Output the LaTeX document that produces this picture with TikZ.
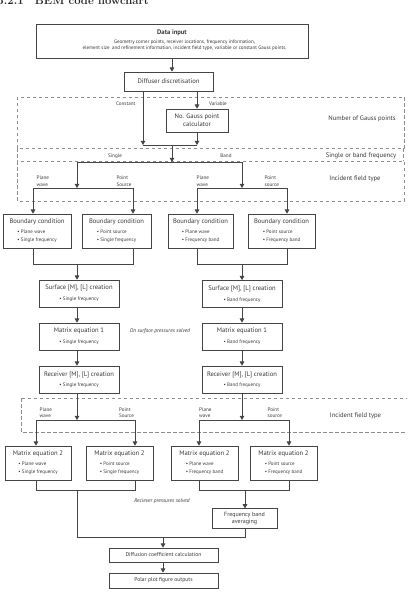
\documentclass[tikz,border=0pt]{standalone}
\usepackage{fontspec}
\newfontfamily\dsans{PT Sans}
\usetikzlibrary{arrows.meta}
\definecolor{ln}{HTML}{454545}
\definecolor{tx}{HTML}{383838}
\definecolor{dsh}{HTML}{8E8E8E}
\newcommand{\fmain}{\fontsize{6.6}{7.8}\selectfont}
\newcommand{\fsm}{\fontsize{5}{7.8}\selectfont}
\newcommand{\flab}{\fontsize{5.1}{6.5}\selectfont}
\newcommand{\fnote}{\fontsize{5.4}{6.5}\selectfont}
\newcommand{\fdat}{\fontsize{5}{6.5}\selectfont}
\newcommand{\btwo}[2]{{\fsm\begin{tabular}[t]{@{}l@{}}\textbullet\ #1\\\textbullet\ #2\end{tabular}}}
\newcommand{\bone}[1]{{\fsm\textbullet\ #1}}
\tikzset{
  box/.style={draw=ln, line width=0.7pt, inner sep=0pt, align=center, text=tx, font=\dsans\fmain},
  conn/.style={draw=ln, line width=0.8pt},
  arr/.style={conn, -{Triangle[width=4.6pt,length=4.2pt]}},
  lbl/.style={text=tx, font=\dsans\flab, inner sep=0pt, align=left},
  region/.style={text=tx, font=\dsans\fmain, inner sep=0pt},
  dashbox/.style={draw=dsh, line width=0.6pt, dash pattern=on 3.5pt off 2.5pt},
  note/.style={text=tx, font=\dsans\itshape\fnote, inner sep=0pt}
}
\begin{document}
\begin{tikzpicture}[x=1pt,y=-1pt]
\useasboundingbox (0,0) rectangle (407,593);
\fill[white] (0,0) rectangle (407,593);
\clip (0,0) rectangle (407,593);

\node[anchor=base west, inner sep=0pt, font=\fontsize{11.3}{13}\selectfont\bfseries, text=black!85] (heading) at (-2.7,4.3) {5.2.1\quad BEM code flowchart};

% dashed regions
\draw[dashbox] (17,97) rectangle (404,148.5);
\draw[dashbox] (17,161.5) rectangle (404,201);
\draw[dashbox] (17,148.5) -- (17,161.5) (403,148.5) -- (403,161.5);
\draw[dashbox] (21,398) rectangle (412,432);

\node[region] (rg1) at (362,119) {Number of Gauss points};
\node[region] (rg2) at (361,156) {Single or band frequency};
\node[region] (rg3) at (355,179) {Incident field type};
\node[region] (rg4) at (355.5,416) {Incident field type};

% data input
\node[box, minimum width=272, minimum height=34] (data) at (172,41) {};
\node[font=\dsans\bfseries\fmain, text=tx, inner sep=0pt] (datat) at (172,33) {Data input};
\node[font=\dsans\fdat, text=tx, inner sep=0pt, align=center] (datad) at (184.5,45) {Geometry corner points, receiver locations, frequency information,\\element size\ \ and refinement information, incident field type, variable or constant Gauss points.};

\node[box, minimum width=89, minimum height=19] (diff) at (168.5,81.5) {Diffuser discretisation};
\node[box, minimum width=62, minimum height=23] (gauss) at (197,120.5) {No. Gauss point\\calculator};

% boundary condition boxes
\node[box, minimum width=68, minimum height=34] (bcA) at (37,231) {Boundary condition\\[2.5pt]\btwo{Plane wave}{Single frequency}};
\node[box, minimum width=69, minimum height=34] (bcB) at (116.5,231) {Boundary condition\\[2.5pt]\btwo{Point source}{Single frequency}};
\node[box, minimum width=65, minimum height=34] (bcC) at (200.5,231) {Boundary condition\\[2.5pt]\btwo{Plane wave}{Frequency band}};
\node[box, minimum width=67, minimum height=34] (bcD) at (281.5,231) {Boundary condition\\[2.5pt]\btwo{Point source}{Frequency band}};

% single-frequency / band columns
\node[box, minimum width=80, minimum height=27] (surfL) at (79,293.5) {Surface [M], [L] creation\\[3pt]\bone{Single frequency}};
\node[box, minimum width=80, minimum height=27] (surfR) at (242,294) {Surface [M], [L] creation\\[3pt]\bone{Band frequency}};
\node[box, minimum width=80, minimum height=27] (mat1L) at (79,336.5) {Matrix equation 1\\[3pt]\bone{Single frequency}};
\node[box, minimum width=80, minimum height=27] (mat1R) at (242,336.5) {Matrix equation 1\\[3pt]\bone{Band frequency}};
\node[box, minimum width=80, minimum height=27] (recL) at (79,379.5) {Receiver [M], [L] creation\\[2.5pt]\bone{Single frequency}};
\node[box, minimum width=80, minimum height=27] (recR) at (242,379.5) {Receiver [M], [L] creation\\[2.5pt]\bone{Band frequency}};

% matrix equation 2 boxes
\node[box, minimum width=66, minimum height=34] (m2E) at (38,463) {Matrix equation 2\\[2.5pt]\btwo{Plane wave}{Single frequency}};
\node[box, minimum width=67, minimum height=34] (m2F) at (119.5,463) {Matrix equation 2\\[2.5pt]\btwo{Point source}{Single frequency}};
\node[box, minimum width=67, minimum height=34] (m2G) at (204.5,463) {Matrix equation 2\\[2.5pt]\btwo{Plane wave}{Frequency band}};
\node[box, minimum width=67, minimum height=34] (m2H) at (283.5,463) {Matrix equation 2\\[2.5pt]\btwo{Point source}{Frequency band}};

\node[box, minimum width=65, minimum height=19.5, font=\dsans\fontsize{6}{7.6}\selectfont] (freq) at (244.5,518.5) {Frequency band\\averaging};
\node[box, minimum width=109, minimum height=14, font=\dsans\fontsize{5.6}{7}\selectfont] (diffc) at (163.5,555) {Diffusion coefficient calculation};
\node[box, minimum width=109, minimum height=15, font=\dsans\fontsize{5.6}{7}\selectfont] (polar) at (163.5,580.5) {Polar plot figure outputs};

% labels
\node[lbl, anchor=east] (lcon) at (135.5,104) {Constant};
\node[lbl] (lvar) at (218,104) {Variable};
\node[lbl] (lsin) at (115,156) {Single};
\node[lbl] (lban) at (226,156) {Band};
\node[lbl, anchor=west] (lpw1) at (36.5,181) {Plane\\wave};
\node[lbl, anchor=west] (lps1) at (116.5,181) {Point\\Source};
\node[lbl, anchor=west] (lpw2) at (196.5,181) {Plane\\wave};
\node[lbl, anchor=west] (lps2) at (264.5,181) {Point\\source};
\node[lbl, anchor=west] (lpw3) at (39.5,412.5) {Plane\\wave};
\node[lbl, anchor=west] (lps3) at (119,412.5) {Point\\Source};
\node[lbl, anchor=west] (lpw4) at (199,412.5) {Plane\\wave};
\node[lbl, anchor=west] (lps4) at (267.5,412.5) {Point\\source};
\node[note] (n1) at (160,331) {On surface pressures solved};
\node[note] (n2) at (162,501) {Reciever pressures solved};

% connectors: top
\draw[arr] (data.south -| datat) -- (datat |- diff.north);
\coordinate (jcon) at (143,145);
\coordinate (jvar) at (197,145);
\coordinate (jmid) at (172,145);
\draw[arr] (diff.south -| jcon) -- (jcon);
\draw[arr] (diff.south -| jvar) -- (gauss.north);
\draw[arr] (gauss.south) -- (jvar);
\draw[conn] (jcon) -- (jvar);
\coordinate (jfreq) at (172,162);
\draw[arr] (jmid) -- (jfreq);
\coordinate (jsing) at (77,162);
\coordinate (jband) at (242,162);
\draw[conn] (jsing) -- (jband);
\coordinate (jsL) at (77,188);
\coordinate (jbL) at (242,188);
\draw[arr] (jsing) -- (jsL);
\draw[arr] (jband) -- (jbL);
\coordinate (pA) at (33,188);
\coordinate (pB) at (133,188);
\coordinate (pC) at (197,188);
\coordinate (pD) at (287,188);
\draw[conn] (pA) -- (pB);
\draw[conn] (pC) -- (pD);
\draw[arr] (pA) -- (pA |- bcA.north);
\draw[arr] (pB) -- (pB |- bcB.north);
\draw[arr] (pC) -- (pC |- bcC.north);
\draw[arr] (pD) -- (pD |- bcD.north);

% boundary -> surface
\coordinate (qA) at (33,264);
\coordinate (qB) at (133,264);
\coordinate (qC) at (197,264);
\coordinate (qD) at (287,264);
\coordinate (sL) at (77,264);
\coordinate (sR) at (242,264);
\draw[conn] (bcA.south -| qA) -- (qA) -- (qB) -- (bcB.south -| qB);
\draw[conn] (bcC.south -| qC) -- (qC) -- (qD) -- (bcD.south -| qD);
\draw[arr] (sL) -- (sL |- surfL.north);
\draw[arr] (sR) -- (sR |- surfR.north);
\draw[arr] (surfL.south -| sL) -- (sL |- mat1L.north);
\draw[arr] (surfR.south -| sR) -- (sR |- mat1R.north);
\draw[arr] (mat1L.south -| sL) -- (sL |- recL.north);
\draw[arr] (mat1R.south -| sR) -- (sR |- recR.north);

% receiver -> matrix eq 2
\coordinate (tL) at (77,420);
\coordinate (tR) at (242,420);
\coordinate (tE) at (36,420);
\coordinate (tF) at (135,420);
\coordinate (tG) at (199,420);
\coordinate (tH) at (289,420);
\draw[arr] (recL.south -| tL) -- (tL);
\draw[arr] (recR.south -| tR) -- (tR);
\draw[conn] (tE) -- (tF);
\draw[conn] (tG) -- (tH);
\draw[arr] (tE) -- (tE |- m2E.north);
\draw[arr] (tF) -- (tF |- m2F.north);
\draw[arr] (tG) -- (tG |- m2G.north);
\draw[arr] (tH) -- (tH |- m2H.north);

% matrix eq 2 -> outputs
\coordinate (uE) at (36,490);
\coordinate (uF) at (135,490);
\coordinate (uG) at (199,490);
\coordinate (uH) at (289,490);
\coordinate (uL) at (77,490);
\coordinate (uR) at (245,490);
\coordinate (vL) at (77,537);
\coordinate (vR) at (245,537);
\coordinate (vM) at (163,537);
\draw[conn] (m2E.south -| uE) -- (uE) -- (uF) -- (m2F.south -| uF);
\draw[conn] (m2G.south -| uG) -- (uG) -- (uH) -- (m2H.south -| uH);
\draw[arr] (uR) -- (uR |- freq.north);
\draw[conn] (uL) -- (vL) -- (vR) -- (vR |- freq.south);
\draw[arr] (vM) -- (vM |- diffc.north);
\draw[arr] (diffc.south -| vM) -- (vM |- polar.north);
\end{tikzpicture}
\end{document}
